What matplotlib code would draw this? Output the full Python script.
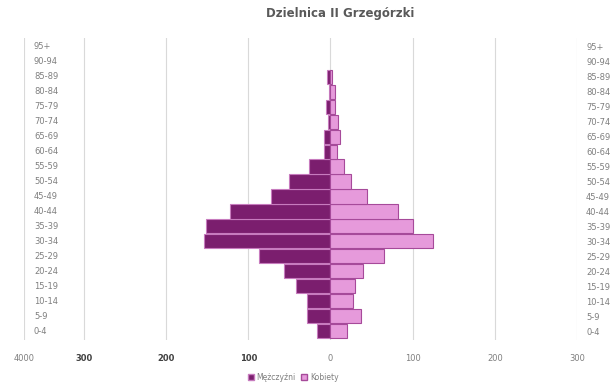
import matplotlib.pyplot as plt
import matplotlib.transforms as mtransforms
import numpy as np

# age groups from youngest to oldest
age_groups = ["0-4", "5-9", "10-14", "15-19", "20-24", "25-29", "30-34", "35-39",
              "40-44", "45-49", "50-54", "55-59", "60-64", "65-69", "70-74",
              "75-79", "80-84", "85-89", "90-94", "95+"]
men = [17, 28, 28, 42, 57, 87, 154, 151, 122, 73, 50, 26, 8, 8, 3, 5, 2, 4, 0, 0]
women = [20, 37, 28, 30, 40, 65, 125, 100, 82, 45, 25, 16, 8, 12, 9, 5, 5, 2, 0, 0]

x_ticks = [-373, -300, -200, -100, 0, 100, 200, 300]
x_tick_labels = ["4000", "300", "200", "100", "0", "100", "200", "300"]

men_color = "#7B1E6E"
women_color = "#E69ADB"

fig = plt.figure(figsize=(6.11, 3.87), dpi=100)
ax = fig.add_axes([24 / 611, 1 - 340 / 387, (577 - 24) / 611, (340 - 38) / 387])

y = np.arange(len(age_groups))
men_lw = [0.8 if v > 0 else 0 for v in men]
women_lw = [0.8 if v > 0 else 0 for v in women]
ax.barh(y, -np.array(men), height=0.95, color=men_color, edgecolor="#C77BBE", linewidth=men_lw, zorder=3)
ax.barh(y, women, height=0.95, color=women_color, edgecolor="#A64A9A", linewidth=women_lw, zorder=3)

ax.set_xlim(-373, 300)
ax.set_ylim(-0.6, len(age_groups) - 0.4)

# vertical gridlines
for xv in x_ticks:
    ax.axvline(xv, color="#D9D9D9", linewidth=0.8, zorder=0)

for s in ax.spines.values():
    s.set_visible(False)

ax.set_xticks(x_ticks)
ax.set_xticklabels(x_tick_labels, fontsize=6, color="#7F7F7F")
for lbl, txt in zip(ax.get_xticklabels(), x_tick_labels):
    if txt in ("300", "200", "100") and lbl.get_position()[0] < 0:
        lbl.set_color("#404040")
        lbl.set_fontweight("bold")
ax.tick_params(axis="x", length=0, pad=10)

# category labels on the right
ax.set_yticks(y)
ax.set_yticklabels(age_groups, fontsize=6, color="#7F7F7F")
ax.tick_params(axis="y", left=False, right=False, labelleft=False, labelright=True, pad=3)

# category labels inside on the left
trans = mtransforms.blended_transform_factory(fig.transFigure, ax.transData)
for yi, lab in zip(y, age_groups):
    ax.text(34 / 611, yi, lab, transform=trans, fontsize=6, color="#7F7F7F",
            ha="left", va="center")

fig.text(340 / 611, 1 - 13 / 387, "Dzielnica II Grzegórzki", fontsize=8.5,
         fontweight="bold", color="#595959", ha="center", va="center")

h1 = plt.Rectangle((0, 0), 1, 1, facecolor=men_color, edgecolor="#C77BBE")
h2 = plt.Rectangle((0, 0), 1, 1, facecolor=women_color, edgecolor="#A64A9A")
fig.legend([h1, h2], ["Mężczyźni", "Kobiety"], loc="center", bbox_to_anchor=(293 / 611, 1 - 377 / 387),
           ncol=2, frameon=False, fontsize=5.5, labelcolor="#7F7F7F", handlelength=0.8,
           handleheight=0.8, handletextpad=0.3, columnspacing=0.8)

fig.savefig("out.png", dpi=100)
